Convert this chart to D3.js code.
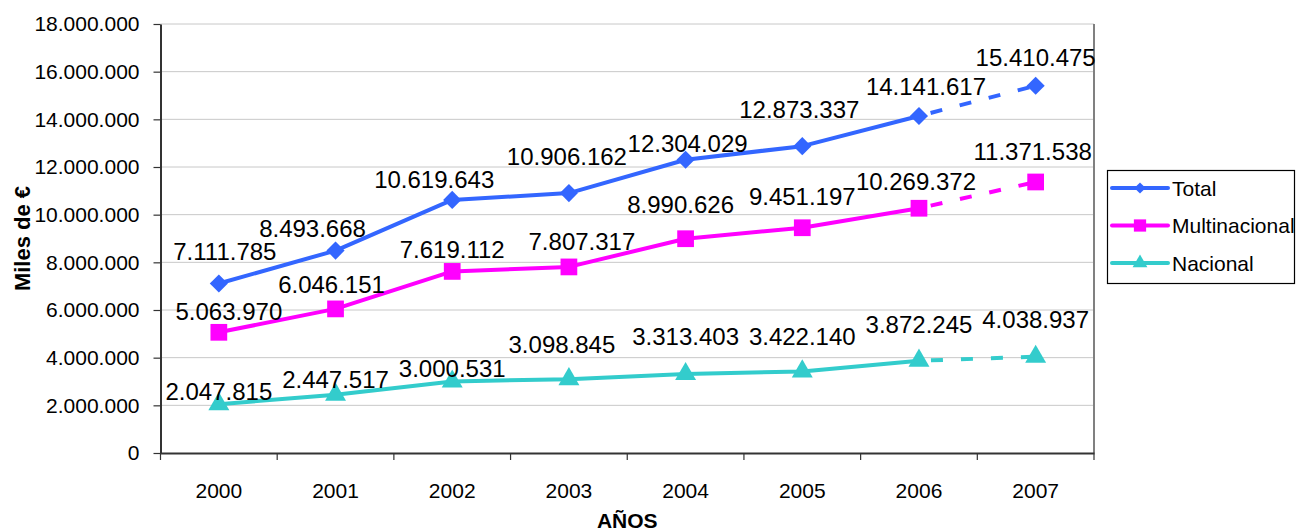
<!DOCTYPE html>
<html>
<head>
<meta charset="utf-8">
<script src="https://cdn.jsdelivr.net/npm/d3@7"></script>
<style>
  html, body { margin: 0; padding: 0; background: #fff; }
  svg { display: block; font-family: "Liberation Sans", Arial, sans-serif; }
</style>
</head>
<body>
<svg id="chart" width="1301" height="532"></svg>
<script>
// ---- data ----
const years = ["2000", "2001", "2002", "2003", "2004", "2005", "2006", "2007"];
const total = [7111785, 8493668, 10619643, 10906162, 12304029, 12873337, 14141617, 15410475];
const multinacional = [5063970, 6046151, 7619112, 7807317, 8990626, 9451197, 10269372, 11371538];
const nacional = [2047815, 2447517, 3000531, 3098845, 3313403, 3422140, 3872245, 4038937];
const yTicks = [0, 2000000, 4000000, 6000000, 8000000, 10000000, 12000000, 14000000, 16000000, 18000000];
const seriesNames = ["Total", "Multinacional", "Nacional"];

// ---- label placement nudges (px, relative to each point) ----
const labelNudge = {
  Total:         { dx: [6, -23, -18, -2, 2, -3, 7, 0],   dy: [-24, -14, -12, -28, -8, -28, -21, -20] },
  Multinacional: { dx: [10, -4, 0, 13, -5, 0, -3, -3],   dy: [-12, -16, -13, -17, -26, -23, -18, -22] },
  Nacional:      { dx: [0, 0, 0, -7, 0, 0, 0, 0],        dy: [-4, -7, -4, -26, -29, -26, -28, -29] }
};

const styles = {
  Total: { color: "#3366FF", marker: d3.symbolDiamond2, size: 210, legendSize: 80 },
  Multinacional: { color: "#FF00FF", marker: d3.symbolSquare, size: 280, legendSize: 150 },
  Nacional: { color: "#33CCCC", marker: d3.symbolTriangle, size: 190, legendSize: 95 }
};

const series = [
  { name: "Total", values: total },
  { name: "Multinacional", values: multinacional },
  { name: "Nacional", values: nacional }
];

const locale = d3.formatLocale({ decimal: ",", thousands: ".", grouping: [3], currency: ["", " €"] });
const fmt = locale.format(",d");

const svg = d3.select("#chart");
const plot = { left: 160.5, right: 1094, top: 24, bottom: 453 };

const x = d3.scaleBand().domain(years).range([plot.left, plot.right]).padding(0);
const y = d3.scaleLinear().domain([0, 18000000]).range([plot.bottom, plot.top]);
const cx = d => x(d) + x.bandwidth() / 2;

// gridlines
svg.append("g").selectAll("line").data(yTicks.filter(t => t > 0)).join("line")
  .attr("x1", plot.left).attr("x2", plot.right)
  .attr("y1", d => y(d)).attr("y2", d => y(d))
  .attr("stroke", "#c8c8c8").attr("stroke-width", 1);

// plot border (right)
svg.append("line")
  .attr("x1", plot.right).attr("x2", plot.right)
  .attr("y1", plot.top).attr("y2", plot.bottom)
  .attr("stroke", "#808080").attr("stroke-width", 2);

// y axis
const yAxis = svg.append("g")
  .attr("transform", `translate(${plot.left},0)`)
  .call(d3.axisLeft(y).tickValues(yTicks).tickFormat(fmt).tickSize(7).tickSizeOuter(0).tickPadding(14));
yAxis.select(".domain").attr("stroke", "#333").attr("stroke-width", 2);
yAxis.selectAll(".tick line").attr("stroke", "#333").attr("stroke-width", 1.2);
yAxis.selectAll(".tick text").attr("font-size", 21).attr("fill", "#000")
  .attr("font-family", "'Liberation Sans', Arial, sans-serif");

// x axis
const xAxis = svg.append("g")
  .attr("transform", `translate(0,${plot.bottom})`)
  .call(d3.axisBottom(x).tickSize(0).tickSizeOuter(0).tickPadding(30));
xAxis.select(".domain").attr("stroke", "#333").attr("stroke-width", 2);
xAxis.selectAll(".tick text").attr("font-size", 21).attr("fill", "#000")
  .attr("font-family", "'Liberation Sans', Arial, sans-serif");
// boundary ticks
svg.append("g").selectAll("line").data(years.map(d => x(d)).concat([x.range()[1]])).join("line")
  .attr("x1", d => d).attr("x2", d => d)
  .attr("y1", plot.bottom).attr("y2", plot.bottom + 7)
  .attr("stroke", "#333").attr("stroke-width", 1.2);

// axis titles
svg.append("text")
  .attr("x", (plot.left + plot.right) / 2).attr("y", 528)
  .attr("text-anchor", "middle").attr("font-size", 21).attr("font-weight", "bold")
  .text("AÑOS");
svg.append("text")
  .attr("transform", `translate(22,${(plot.top + plot.bottom) / 2}) rotate(-90)`)
  .attr("text-anchor", "middle").attr("dominant-baseline", "central")
  .attr("font-size", 22).attr("font-weight", "bold")
  .text("Miles de €");

// lines
const line = d3.line().x(d => cx(d.year)).y(d => y(d.value));
series.forEach(s => {
  const pts = s.values.map((v, i) => ({ year: years[i], value: v }));
  const st = styles[s.name];
  svg.append("path").datum(pts.slice(0, 7))
    .attr("d", line).attr("fill", "none")
    .attr("stroke", st.color).attr("stroke-width", 4).attr("stroke-linejoin", "round");
  svg.append("path").datum(pts.slice(6))
    .attr("d", line).attr("fill", "none")
    .attr("stroke", st.color).attr("stroke-width", 4)
    .attr("stroke-dasharray", "12,18").attr("stroke-dashoffset", -12);
});

// markers
series.forEach(s => {
  const st = styles[s.name];
  const sym = d3.symbol().type(st.marker).size(st.size);
  svg.append("g").selectAll("path").data(s.values).join("path")
    .attr("d", sym)
    .attr("transform", (d, i) => `translate(${cx(years[i])},${y(d)})`)
    .attr("fill", st.color);
});

// data labels
series.forEach(s => {
  const nd = labelNudge[s.name];
  svg.append("g").selectAll("text").data(s.values).join("text")
    .attr("x", (d, i) => cx(years[i]) + nd.dx[i])
    .attr("y", (d, i) => y(d) + nd.dy[i])
    .attr("text-anchor", "middle")
    .attr("font-size", 24).attr("fill", "#000")
    .text(d => fmt(d));
});

// legend
const lg = svg.append("g");
lg.append("rect").attr("x", 1107.5).attr("y", 170.5).attr("width", 187).attr("height", 113)
  .attr("fill", "#fff").attr("stroke", "#000").attr("stroke-width", 1.2);
const legendY = d3.scalePoint().domain(seriesNames).range([188, 263]);
seriesNames.forEach(n => {
  const st = styles[n];
  const yy = legendY(n);
  lg.append("line").attr("x1", 1112).attr("x2", 1168).attr("y1", yy).attr("y2", yy)
    .attr("stroke", st.color).attr("stroke-width", 4).attr("stroke-linecap", "round");
  lg.append("path").attr("d", d3.symbol().type(st.marker).size(st.legendSize))
    .attr("transform", `translate(1140,${yy})`).attr("fill", st.color);
  lg.append("text").attr("x", 1172).attr("y", yy).attr("dy", "0.36em")
    .attr("font-size", 21).attr("fill", "#000").text(n);
});
</script>
</body>
</html>
